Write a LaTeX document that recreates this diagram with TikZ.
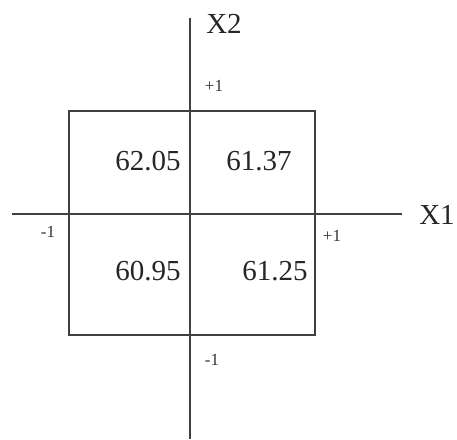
\documentclass[tikz,border=0pt]{standalone}
\usepackage{fontspec}
\setmainfont{Liberation Serif}
\begin{document}
\begin{tikzpicture}[x=1pt,y=-1pt,
  axis/.style={line width=1.6pt,draw=black!75},
  big/.style={font=\fontsize{29}{29}\selectfont,inner sep=0pt,text=black!85},
  small/.style={font=\fontsize{17}{17}\selectfont,inner sep=0pt,text=black!80}]
\useasboundingbox (0,0) rectangle (457,439);
\coordinate (vt) at (190,18);
\coordinate (vb) at (190,439);
\coordinate (hl) at (12,214);
\coordinate (hr) at (402,214);
\coordinate (b1) at (69,111);
\coordinate (b2) at (315,335);
\draw[axis] (b1) rectangle (b2);
\draw[axis] (vt) -- (vb);
\draw[axis] (hl) -- (hr);
\node[big] (x2) at (224,24) {X2};
\node[big] (x1) at (437,215) {X1};
\node[big] (a) at (148,161) {62.05};
\node[big] (b) at (259,161) {61.37};
\node[big] (c) at (148,271) {60.95};
\node[big] (d) at (275,271) {61.25};
\node[small] (pt) at (214,86) {+1};
\node[small] (mb) at (212,360) {-1};
\node[small] (ml) at (48,232) {-1};
\node[small] (pr) at (332,236) {+1};
\end{tikzpicture}
\end{document}
